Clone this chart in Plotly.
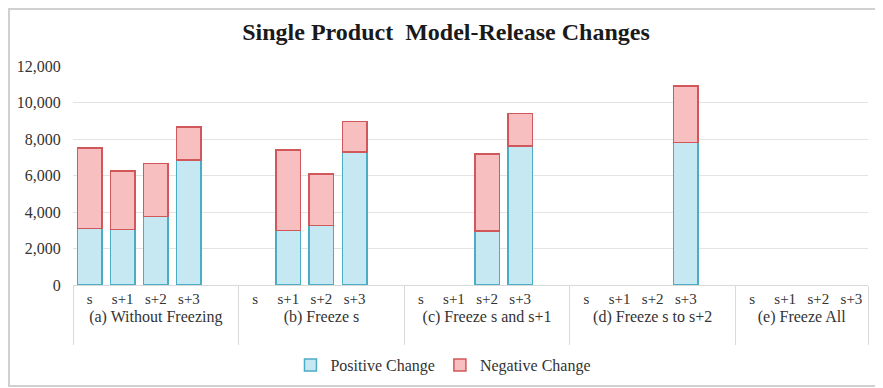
import plotly.graph_objects as go

groups = ["(a) Without Freezing", "(b) Freeze s", "(c) Freeze s and s+1",
          "(d) Freeze s to s+2", "(e) Freeze All"]
periods = ["s", "s+1", "s+2", "s+3"]

positive = [
    [3100, 3050, 3750, 6850],
    [None, 2980, 3270, 7290],
    [None, None, 2960, 7620],
    [None, None, None, 7800],
    [None, None, None, None],
]
negative = [
    [4400, 3200, 2900, 1800],
    [None, 4420, 2810, 1680],
    [None, None, 4220, 1790],
    [None, None, None, 3100],
    [None, None, None, None],
]

# build multicategory x with a blank spacer slot after each group except the last
lvl0, lvl1, pos_y, neg_y = [], [], [], []
for gi, g in enumerate(groups):
    glabel = "<span style='font-size:16px'>" + g + "</span><br> "
    for pi, p in enumerate(periods):
        lvl0.append(glabel)
        lvl1.append(p)
        pos_y.append(positive[gi][pi])
        neg_y.append(negative[gi][pi])
    if gi < len(groups) - 1:
        lvl0.append(glabel)
        lvl1.append(" ")
        pos_y.append(None)
        neg_y.append(None)

serif = "Liberation Serif, Times New Roman, serif"

W, H = 875, 380          # page body has an 8px offset
L, R, T, B = 65, 15, 58, 103
PW, PH = W - L - R, H - T - B

fig = go.Figure()
fig.add_trace(go.Bar(
    x=[lvl0, lvl1], y=pos_y, name="Positive Change",
    marker=dict(color="#c6e8f3", line=dict(color="#4bacc6", width=1.5)),
))
fig.add_trace(go.Bar(
    x=[lvl0, lvl1], y=neg_y, name="Negative Change",
    marker=dict(color="#f7bfbf", line=dict(color="#d0585a", width=1.5)),
))

fig.update_layout(
    barmode="stack",
    bargap=0.26,
    width=W, height=H,
    margin=dict(l=L, r=R, t=T, b=B, autoexpand=False),
    paper_bgcolor="white",
    plot_bgcolor="white",
    title=dict(text="<b>Single Product  Model-Release Changes</b>",
               x=0.5006, xanchor="center", y=1 - 24 / H, yanchor="middle",
               font=dict(family=serif, size=24, color="#1a1a1a")),
    font=dict(family=serif, color="#333333"),
    legend=dict(orientation="h", x=0.466, xanchor="center", y=-63 / PH, yanchor="top",
                font=dict(family=serif, size=16, color="#333333"),
                itemwidth=30, traceorder="normal"),
    xaxis=dict(
        type="multicategory", automargin=False,
        showline=True, linecolor="#d9d9d9", linewidth=1,
        showdividers=True, dividercolor="#d9d9d9", dividerwidth=1,
        tickfont=dict(family=serif, size=15, color="#333333"),
        ticks="",
    ),
    yaxis=dict(
        automargin=False,
        range=[0, 12000], dtick=2000, tickformat=",",
        showgrid=True, gridcolor="#e3e3e3", gridwidth=1,
        zeroline=False, showline=False,
        tickfont=dict(family=serif, size=16, color="#333333"),
        ticks="outside", ticklen=8, tickcolor="rgba(0,0,0,0)",
    ),
    shapes=[dict(type="rect", xref="paper", yref="paper",
                 x0=-(L - 1) / PW, x1=(872 - L) / PW,
                 y0=-(378 - (T + PH)) / PH, y1=1 + (T - 1) / PH,
                 line=dict(color="#d0d0d0", width=2), fillcolor="rgba(0,0,0,0)",
                 layer="below")],
)

fig.write_html("out.html")
